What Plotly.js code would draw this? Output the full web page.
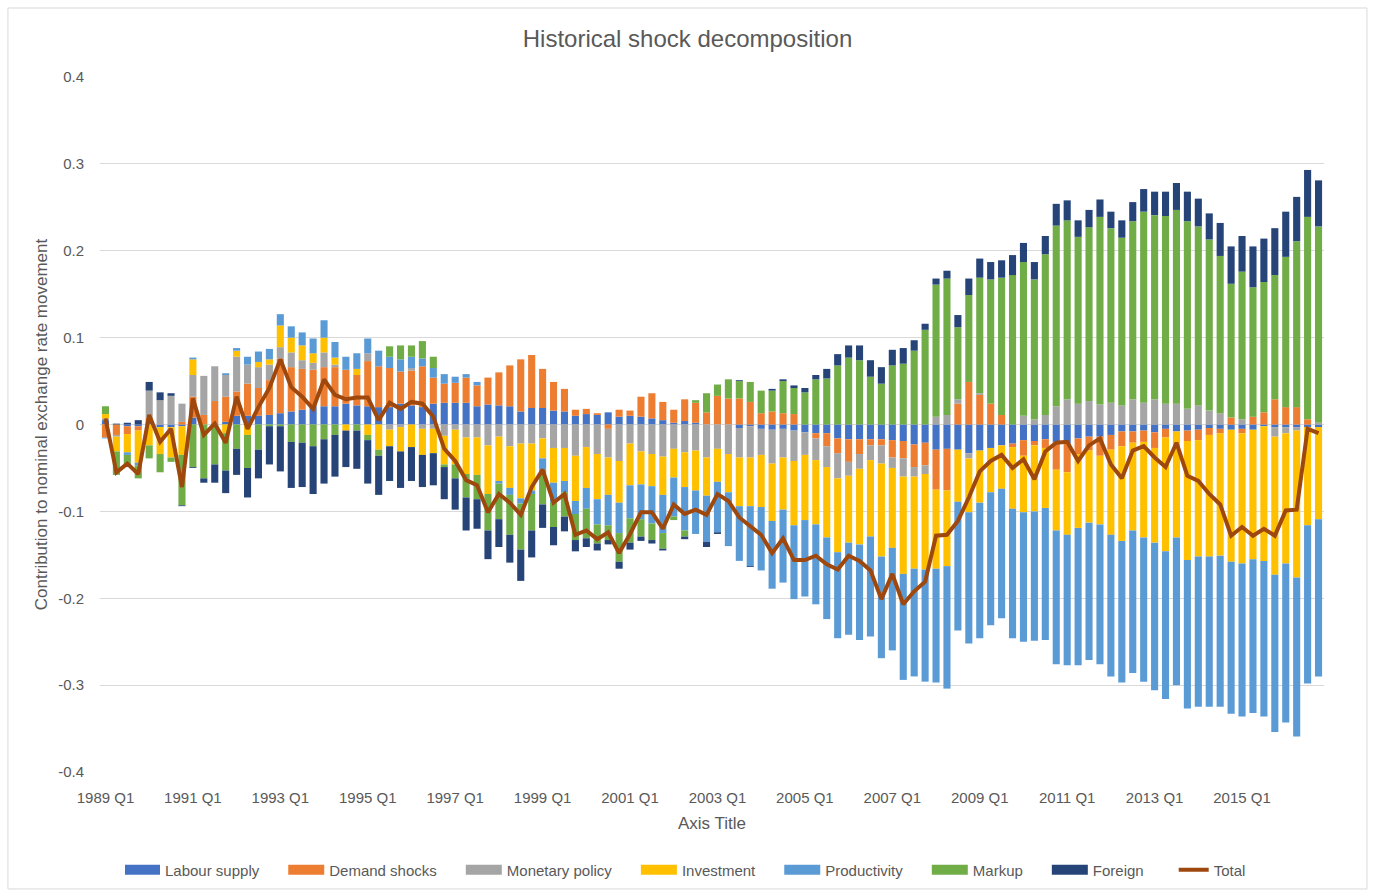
<!DOCTYPE html>
<html>
<head>
<meta charset="utf-8">
<script src="https://cdn.plot.ly/plotly-3.0.1.min.js"></script>
<style>html,body{margin:0;padding:0;background:#fff;}#chart{width:1375px;height:892px;}</style>
</head>
<body>
<div id="chart"></div>
<script>
// Quarter labels 1989 Q1 .. 2016 Q4
var years = [];
for (var y = 1989; y <= 2016; y++) years.push(y);
var quarters = [];
years.forEach(function (yr) { for (var q = 1; q <= 4; q++) quarters.push(yr + ' Q' + q); });
var xTickLabels = ['1989 Q1','1991 Q1','1993 Q1','1995 Q1','1997 Q1','1999 Q1','2001 Q1','2003 Q1','2005 Q1','2007 Q1','2009 Q1','2011 Q1','2013 Q1','2015 Q1'];
var yTickVals = [-0.4,-0.3,-0.2,-0.1,0,0.1,0.2,0.3,0.4];
var yTickLabels = ['-0.4','-0.3','-0.2','-0.1','0','0.1','0.2','0.3','0.4'];

var labourSupply = [0.005,0,-0.002,-0.002,0.003,-0.003,-0.003,-0.002,0.008,0,0,0.003,0.010,0.010,0.010,0.011,0.013,0.015,0.017,0.021,0.021,0.021,0.024,0.022,0.021,0.020,0.020,0.024,0.022,0.020,0.024,0.025,0.025,0.025,0.021,0.023,0.022,0.021,0.015,0.019,0.019,0.016,0.015,0.010,0.012,0.011,0.014,0.009,0.010,0.009,0.007,0.005,0.002,0.004,0.002,0,0,0,-0.004,-0.002,-0.005,-0.006,-0.005,-0.007,-0.009,-0.010,-0.010,-0.016,-0.017,-0.017,-0.017,-0.017,-0.018,-0.019,-0.023,-0.021,-0.029,-0.028,-0.029,-0.033,-0.030,-0.027,-0.024,-0.022,-0.018,-0.019,-0.017,-0.020,-0.022,-0.016,-0.014,-0.014,-0.012,-0.008,-0.008,-0.007,-0.009,-0.005,-0.008,-0.007,-0.006,-0.004,-0.005,-0.006,-0.005,-0.006,-0.002,-0.003,-0.003,-0.003,-0.003,-0.003];
var demandShocks = [-0.015,-0.012,-0.009,-0.005,0.005,0,0,0.003,0.024,0.011,0.027,0.029,0.028,0.037,0.032,0.040,0.063,0.051,0.047,0.042,0.045,0.045,0.039,0.035,0.052,0.047,0.045,0.037,0.040,0.047,0.030,0.022,0.023,0.029,0.024,0.031,0.038,0.047,0.060,0.061,0.045,0.033,0.026,0.007,0.006,0.002,-0.005,0.008,0.006,0.023,0.029,0.021,0.015,0.025,0.023,0.014,0.033,0.030,0.030,0.026,0.013,0.015,0.013,0.012,0,-0.006,-0.015,-0.017,-0.026,-0.017,-0.007,-0.007,-0.020,-0.020,-0.026,-0.026,-0.046,-0.048,0.024,0.049,0.034,0.024,0.011,-0.004,-0.018,-0.005,-0.010,-0.032,-0.033,-0.018,-0.016,-0.022,-0.017,-0.017,-0.013,-0.013,-0.018,-0.010,0,-0.012,-0.012,-0.008,-0.005,0.008,-0.005,0.009,0.014,0.029,0.020,0.020,0.006,0];
var monetaryPolicy = [0.002,-0.002,0,0,0.031,0.028,0.033,0.021,0.025,0.045,0.040,0.025,0.040,0.022,0.024,0.018,0.013,0.017,0.010,0.008,0.017,0.003,0,0,0.009,0,-0.006,-0.003,0.003,-0.005,-0.005,-0.013,-0.006,-0.015,-0.015,-0.024,-0.014,-0.025,-0.022,-0.022,-0.016,-0.027,-0.027,-0.036,-0.026,-0.034,-0.033,-0.042,-0.022,-0.031,-0.034,-0.037,-0.028,-0.032,-0.030,-0.038,-0.028,-0.034,-0.034,-0.036,-0.030,-0.039,-0.033,-0.035,-0.026,-0.025,-0.024,-0.029,-0.016,-0.017,-0.017,-0.021,-0.012,-0.021,-0.011,-0.010,0.009,0.011,0.005,-0.006,0.002,0,0,0,0.010,0.006,0.011,0.021,0.029,0.024,0.027,0.023,0.025,0.022,0.029,0.025,0.029,0.024,0.024,0.018,0.022,0.016,0.013,0,0.006,0,0,-0.011,-0.007,-0.004,0,0.002];
var investment = [0.005,-0.017,-0.021,-0.037,-0.024,-0.031,-0.035,-0.033,0.018,0,0,-0.010,0.007,-0.012,0.006,0.006,0.025,0.017,0.017,0.011,0.017,0.008,-0.007,0.007,-0.012,-0.029,-0.019,-0.028,-0.026,-0.030,-0.028,-0.033,-0.040,-0.042,-0.043,-0.056,-0.051,-0.048,-0.063,-0.054,-0.023,-0.040,-0.038,-0.052,-0.047,-0.052,-0.043,-0.048,-0.048,-0.038,-0.037,-0.044,-0.033,-0.040,-0.046,-0.044,-0.038,-0.044,-0.056,-0.056,-0.060,-0.066,-0.060,-0.074,-0.075,-0.074,-0.081,-0.085,-0.077,-0.087,-0.088,-0.107,-0.092,-0.112,-0.106,-0.110,-0.091,-0.087,-0.060,-0.062,-0.060,-0.051,-0.050,-0.071,-0.065,-0.076,-0.069,-0.070,-0.072,-0.085,-0.083,-0.079,-0.098,-0.109,-0.101,-0.110,-0.109,-0.131,-0.122,-0.137,-0.134,-0.140,-0.141,-0.152,-0.150,-0.149,-0.155,-0.159,-0.150,-0.169,-0.113,-0.106];
var productivity = [-0.001,0,-0.003,-0.003,0,0,0,0,0.002,0,0,0.002,0.003,0.009,0.012,0.012,0.013,0.013,0.015,0.017,0.020,0.018,0.015,0.018,0.017,0.018,0.013,0.014,0.013,0.009,0.011,0.011,0.007,0.004,0.004,0,-0.003,-0.008,-0.006,-0.004,-0.013,-0.023,-0.013,-0.015,-0.024,-0.029,-0.035,-0.035,-0.038,-0.040,-0.043,-0.044,-0.045,-0.050,-0.050,-0.053,-0.058,-0.062,-0.063,-0.069,-0.073,-0.078,-0.084,-0.085,-0.088,-0.092,-0.094,-0.099,-0.106,-0.110,-0.115,-0.117,-0.118,-0.122,-0.124,-0.129,-0.131,-0.141,-0.148,-0.151,-0.156,-0.153,-0.149,-0.149,-0.149,-0.149,-0.152,-0.154,-0.150,-0.158,-0.158,-0.161,-0.163,-0.163,-0.164,-0.166,-0.170,-0.170,-0.170,-0.171,-0.173,-0.173,-0.174,-0.175,-0.176,-0.177,-0.179,-0.181,-0.183,-0.183,-0.182,-0.181];
var markup = [0.009,-0.027,-0.012,-0.015,-0.015,-0.021,-0.005,-0.058,-0.049,-0.062,-0.046,-0.043,-0.028,-0.038,-0.029,-0.002,-0.002,-0.020,-0.021,-0.025,-0.017,-0.012,0,-0.007,-0.006,-0.007,0.012,0.016,0.013,0.020,0.013,-0.003,-0.016,-0.027,-0.028,-0.042,-0.041,-0.046,-0.053,-0.042,-0.040,-0.028,-0.028,-0.030,-0.034,-0.022,-0.017,-0.033,-0.028,-0.020,-0.019,-0.018,-0.004,-0.007,0.003,0.022,0.013,0.022,0.020,0.023,0.026,0.024,0.037,0.030,0.037,0.052,0.053,0.068,0.077,0.074,0.055,0.047,0.068,0.070,0.085,0.109,0.152,0.157,0.083,0.100,0.133,0.143,0.158,0.172,0.177,0.161,0.185,0.208,0.206,0.192,0.200,0.216,0.201,0.193,0.205,0.220,0.212,0.216,0.223,0.216,0.206,0.197,0.181,0.154,0.170,0.149,0.150,0.143,0.173,0.191,0.233,0.226];
var foreign = [0,0.001,0.002,0.005,0.010,0.009,0.003,-0.001,-0.001,-0.005,-0.021,-0.026,-0.030,-0.034,-0.033,-0.044,-0.052,-0.053,-0.051,-0.055,-0.051,-0.048,-0.042,-0.044,-0.050,-0.045,-0.040,-0.042,-0.039,-0.037,-0.037,-0.037,-0.036,-0.038,-0.034,-0.033,-0.032,-0.032,-0.036,-0.031,-0.027,-0.021,-0.017,-0.013,-0.010,-0.008,-0.005,-0.008,-0.008,-0.005,-0.004,-0.002,0,-0.003,0,-0.006,-0.002,0,0.001,-0.001,0,0.002,0.002,0.003,0.005,0.005,0.011,0.013,0.014,0.017,0.019,0.019,0.018,0.018,0.012,0.007,0.007,0.009,0.014,0.019,0.022,0.020,0.020,0.023,0.022,0.020,0.021,0.025,0.023,0.019,0.020,0.020,0.019,0.020,0.022,0.026,0.027,0.028,0.031,0.034,0.032,0.030,0.038,0.043,0.041,0.047,0.050,0.054,0.052,0.051,0.054,0.053];
var total = [0.007,-0.055,-0.045,-0.057,0.011,-0.020,-0.005,-0.072,0.030,-0.012,0.001,-0.021,0.032,-0.005,0.020,0.042,0.075,0.043,0.032,0.018,0.052,0.034,0.029,0.031,0.031,0.005,0.025,0.018,0.026,0.024,0.009,-0.028,-0.042,-0.064,-0.070,-0.101,-0.080,-0.090,-0.104,-0.072,-0.052,-0.090,-0.080,-0.127,-0.122,-0.132,-0.124,-0.148,-0.126,-0.101,-0.101,-0.120,-0.092,-0.103,-0.098,-0.104,-0.080,-0.088,-0.107,-0.117,-0.127,-0.148,-0.131,-0.156,-0.156,-0.151,-0.161,-0.167,-0.151,-0.157,-0.168,-0.201,-0.172,-0.207,-0.192,-0.181,-0.128,-0.127,-0.111,-0.084,-0.054,-0.042,-0.035,-0.050,-0.040,-0.063,-0.031,-0.021,-0.020,-0.042,-0.024,-0.016,-0.046,-0.062,-0.030,-0.025,-0.038,-0.049,-0.021,-0.059,-0.065,-0.080,-0.092,-0.128,-0.118,-0.128,-0.120,-0.128,-0.099,-0.098,-0.005,-0.010];

var seriesNames = ['Labour supply','Demand shocks','Monetary policy','Investment','Productivity','Markup','Foreign'];
var seriesData = [labourSupply, demandShocks, monetaryPolicy, investment, productivity, markup, foreign];
var seriesColors = ['#4472C4','#ED7D31','#A5A5A5','#FFC000','#5B9BD5','#70AD47','#264478'];
var pad = '\u00a0\u00a0\u00a0\u00a0\u00a0\u00a0';

var traces = seriesNames.map(function (n, i) {
  return { type: 'bar', name: n + pad, x: quarters, y: seriesData[i],
           marker: { color: seriesColors[i], line: { width: 0 } } };
});
traces.push({ type: 'scatter', mode: 'lines', name: 'Total', x: quarters, y: total,
              line: { color: '#9E480E', width: 4 } });

var txt = '#595959';
var fam = 'Liberation Sans, Arial, sans-serif';
var layout = {
  width: 1375, height: 892,
  margin: { l: 100, r: 51, t: 77, b: 120, autoexpand: false },
  paper_bgcolor: '#ffffff', plot_bgcolor: '#ffffff',
  font: { family: fam, color: txt, size: 15 },
  barmode: 'relative', bargap: 0.35,
  title: { text: 'Historical shock decomposition', font: { size: 24, color: txt, family: fam },
           x: 0.5, xanchor: 'center', y: 1 - 39 / 892, yanchor: 'middle', yref: 'container', automargin: false },
  xaxis: { type: 'category', tickvals: xTickLabels, ticktext: xTickLabels, showgrid: false, automargin: false,
           showline: false, zeroline: false, ticks: 'outside', ticklen: 12, tickcolor: 'rgba(0,0,0,0)',
           tickangle: 0, tickfont: { size: 15, color: txt },
           title: { text: 'Axis Title', font: { size: 17, color: txt }, standoff: 12 } },
  yaxis: { range: [-0.4, 0.4], tickvals: yTickVals, ticktext: yTickLabels, showgrid: true, automargin: false,
           gridcolor: '#d9d9d9', gridwidth: 1, zeroline: true, zerolinecolor: '#d9d9d9', zerolinewidth: 1,
           showline: false, ticks: 'outside', ticklen: 12, tickcolor: 'rgba(0,0,0,0)',
           tickfont: { size: 15, color: txt },
           title: { text: 'Contribution to nominal exchange rate movement', font: { size: 17, color: txt }, standoff: 6 } },
  legend: { orientation: 'h', x: (688 - 100) / 1224, xanchor: 'center', y: (772 - 870) / 695, yanchor: 'middle',
            font: { size: 15, color: txt }, traceorder: 'normal', itemwidth: 30 },
  shapes: [{ type: 'rect', xref: 'paper', yref: 'paper', x0: -0.0752, x1: 1.0351, y0: -0.1683, y1: 1.0993,
             line: { color: '#d9d9d9', width: 1 }, fillcolor: 'rgba(0,0,0,0)', layer: 'below' }]
};

Plotly.newPlot('chart', traces, layout, { displayModeBar: false, staticPlot: true }).then(function (gd) {
  // widen the bar legend swatches to Excel-like rectangles
  gd.querySelectorAll('.legend path.legendbar, .legend path.legendundefined').forEach(function (p) {
    p.setAttribute('d', 'M15,5H-21V-5H15Z');
  });
});
</script>
</body>
</html>
